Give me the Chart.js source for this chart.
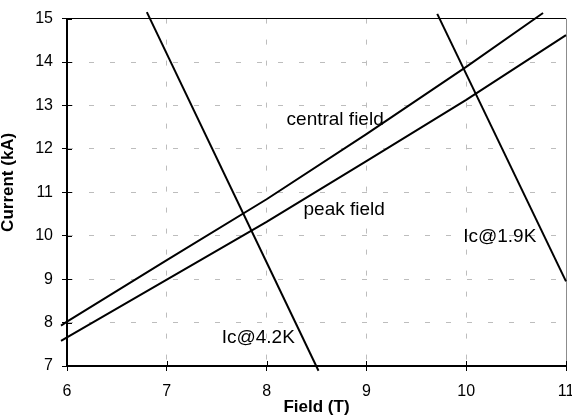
<!DOCTYPE html>
<html>
<head>
<meta charset="utf-8">
<script src="https://cdn.jsdelivr.net/npm/chart.js@4"></script>
<style>
  html, body { margin: 0; padding: 0; background: #fff; overflow: hidden; }
  #wrap { width: 572px; height: 416px; }
</style>
</head>
<body>
<div id="wrap"><canvas id="fieldChart"></canvas></div>
<script>
const xTicks = [6, 7, 8, 9, 10, 11];
const yTicks = [7, 8, 9, 10, 11, 12, 13, 14, 15];

// load lines
const centralField = [5.94, 6, 7, 8, 9, 10, 10.77];
const centralCurrent = [7.93, 8.02, 9.44, 10.84, 12.34, 13.89, 15.13];
const peakField = [5.94, 6, 7, 8, 9, 10, 11];
const peakCurrent = [7.58, 7.66, 8.99, 10.32, 11.72, 13.13, 14.62];

// critical current lines
const ic42Field = [6.8, 8.52];
const ic42Current = [15.15, 6.89];
const ic19Field = [9.71, 11];
const ic19Current = [15.11, 8.95];

const labelTexts = ['central field', 'peak field', 'Ic@1.9K', 'Ic@4.2K'];
const labelField = [8.2, 8.37, 9.97, 7.55];
const labelCurrent = [12.54, 10.48, 9.86, 7.53];

const family = '"Liberation Sans", Arial, sans-serif';

function points(xs, ys) {
    return xs.map((v, i) => ({ x: v, y: ys[i] }));
}

function line(xs, ys) {
    return {
        data: points(xs, ys),
        showLine: true,
        borderColor: '#000',
        borderWidth: 2,
        pointRadius: 0,
        fill: false,
        clip: false
    };
}

const extras = {
    id: 'extras',
    afterDatasetsDraw(chart) {
        const { ctx, scales: { x, y } } = chart;
        ctx.save();
        ctx.fillStyle = '#000';
        ctx.font = '19px ' + family;
        ctx.textBaseline = 'alphabetic';
        ctx.textAlign = 'left';
        labelTexts.forEach((t, i) => {
            ctx.fillText(t, x.getPixelForValue(labelField[i]), y.getPixelForValue(labelCurrent[i]));
        });
        // ticks cross the axes
        ctx.strokeStyle = '#000';
        ctx.lineWidth = 1;
        ctx.beginPath();
        xTicks.forEach(v => {
            const px = Math.round(x.getPixelForValue(v)) + 0.5;
            ctx.moveTo(px, y.bottom);
            ctx.lineTo(px, y.bottom - 5);
        });
        yTicks.forEach(v => {
            const py = Math.round(y.getPixelForValue(v)) + 0.5;
            ctx.moveTo(x.left, py);
            ctx.lineTo(x.left + 5, py);
        });
        ctx.stroke();
        // y title
        ctx.translate(8.5, (chart.chartArea.top + chart.chartArea.bottom) / 2 - 10);
        ctx.rotate(-Math.PI / 2);
        ctx.font = 'bold 17px ' + family;
        ctx.textAlign = 'center';
        ctx.textBaseline = 'middle';
        ctx.fillText('Current (kA)', 0, 0);
        ctx.restore();
    }
};

new Chart(document.getElementById('fieldChart'), {
    type: 'scatter',
    data: {
        datasets: [
            line(centralField, centralCurrent),
            line(peakField, peakCurrent),
            line(ic42Field, ic42Current),
            line(ic19Field, ic19Current)
        ]
    },
    options: {
        responsive: true,
        maintainAspectRatio: false,
        animation: false,
        layout: { padding: { top: 17, right: 6, left: 0, bottom: 0 } },
        plugins: { legend: { display: false }, tooltip: { enabled: false } },
        scales: {
            x: {
                type: 'linear',
                min: xTicks[0],
                max: xTicks[xTicks.length - 1],
                ticks: { stepSize: 1, color: '#000', font: { size: 16, family: family }, padding: 11, maxRotation: 0 },
                grid: {
                    color: c => (c.tick && c.tick.value === 11) ? '#8c8c8c' : '#bdbdbd',
                    lineWidth: 1,
                    tickLength: 5,
                    tickColor: '#000'
                },
                border: {
                    color: '#000',
                    width: 2,
                    dash: c => (c.tick && c.tick.value === 11) ? [] : [5, 16]
                },
                title: {
                    display: true,
                    text: 'Field (T)',
                    color: '#000',
                    font: { size: 17, weight: 'bold', family: family, lineHeight: 1 },
                    padding: 0
                },
                afterFit(s) { s.height = 50; s.paddingRight = 0; }
            },
            y: {
                type: 'linear',
                min: yTicks[0],
                max: yTicks[yTicks.length - 1],
                ticks: { stepSize: 1, color: '#000', font: { size: 16, family: family }, padding: 9 },
                grid: {
                    color: c => (c.tick && c.tick.value === 15) ? '#000' : '#bdbdbd',
                    lineWidth: 1,
                    tickLength: 5,
                    tickColor: '#000'
                },
                border: {
                    color: '#000',
                    width: 2,
                    dash: c => (c.tick && c.tick.value === 15) ? [] : [5, 16]
                },
                afterFit(s) { s.width = 67; }
            }
        }
    },
    plugins: [extras]
});
</script>
</body>
</html>
